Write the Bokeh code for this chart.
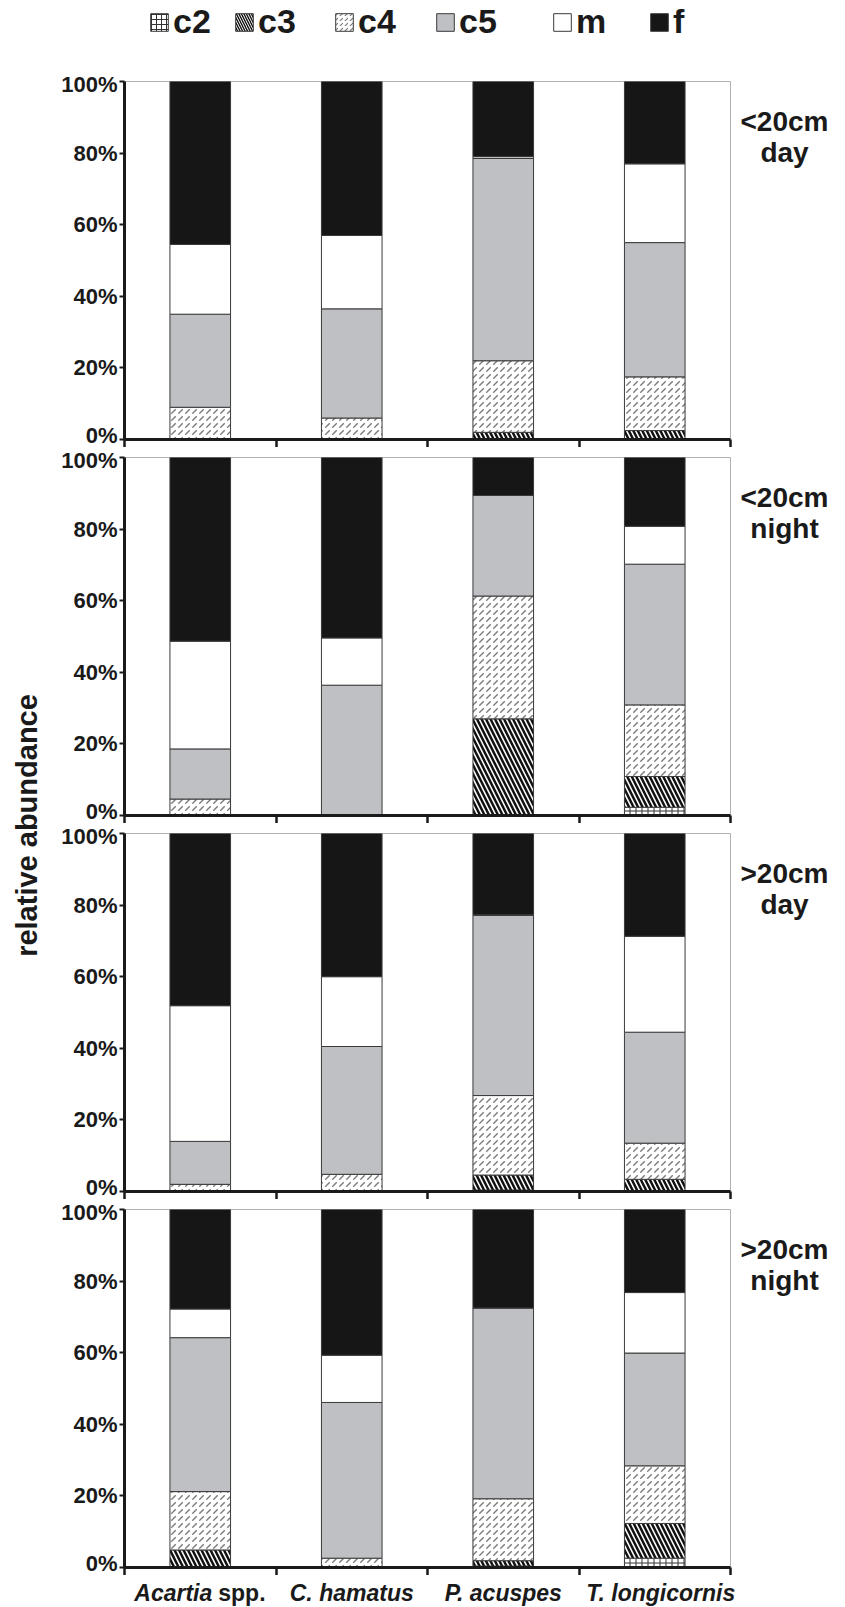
import numpy as np
from bokeh.plotting import figure
from bokeh.models import (Range1d, FixedTicker, NumeralTickFormatter, Label, Legend,
                          LegendItem, ColumnDataSource)
from bokeh.layouts import column, row
from bokeh.embed import file_html
from bokeh.resources import INLINE

# ---------------- data (percent of individuals per stage) ----------------
categories = ["Acartia spp.", "C. hamatus", "P. acuspes", "T. longicornis"]
stages = ["c2", "c3", "c4", "c5", "m", "f"]
y_ticks = [0, 0.2, 0.4, 0.6, 0.8, 1.0]
panel_depth = ["<20cm", "<20cm", ">20cm", ">20cm"]
panel_time = ["day", "night", "day", "night"]

# <20cm day
lt20_day_c2 = [0.0, 0.0, 0.0, 0.0]
lt20_day_c3 = [0.0, 0.0, 2.0, 2.5]
lt20_day_c4 = [9.0, 6.0, 20.0, 15.0]
lt20_day_c5 = [26.0, 30.5, 56.5, 37.5]
lt20_day_m = [19.5, 20.5, 0.5, 22.0]
lt20_day_f = [45.5, 43.0, 21.0, 23.0]

# <20cm night
lt20_night_c2 = [0.0, 0.0, 0.0, 2.3]
lt20_night_c3 = [0.0, 0.0, 27.0, 8.6]
lt20_night_c4 = [4.6, 0.0, 34.3, 20.0]
lt20_night_c5 = [14.0, 36.4, 28.1, 39.3]
lt20_night_m = [30.1, 13.2, 0.0, 10.6]
lt20_night_f = [51.3, 50.4, 10.6, 19.2]

# >20cm day
gt20_day_c2 = [0.0, 0.0, 0.4, 0.0]
gt20_day_c3 = [0.0, 0.0, 4.2, 3.4]
gt20_day_c4 = [2.0, 4.8, 22.2, 10.1]
gt20_day_c5 = [12.0, 35.7, 50.3, 31.0]
gt20_day_m = [37.9, 19.5, 0.2, 26.8]
gt20_day_f = [48.1, 40.0, 22.7, 28.7]

# >20cm night
gt20_night_c2 = [0.0, 0.0, 0.4, 2.6]
gt20_night_c3 = [4.9, 0.0, 1.5, 9.7]
gt20_night_c4 = [16.3, 2.6, 17.3, 16.1]
gt20_night_c5 = [43.0, 43.5, 53.3, 31.5]
gt20_night_m = [8.0, 13.2, 0.0, 16.9]
gt20_night_f = [27.8, 40.7, 27.5, 23.2]

panels = [
    [lt20_day_c2, lt20_day_c3, lt20_day_c4, lt20_day_c5, lt20_day_m, lt20_day_f],
    [lt20_night_c2, lt20_night_c3, lt20_night_c4, lt20_night_c5, lt20_night_m, lt20_night_f],
    [gt20_day_c2, gt20_day_c3, gt20_day_c4, gt20_day_c5, gt20_day_m, gt20_day_f],
    [gt20_night_c2, gt20_night_c3, gt20_night_c4, gt20_night_c5, gt20_night_m, gt20_night_f],
]

# ---------------- styles / layout constants ----------------
FONT = "Liberation Sans"
INK = "#1a1a1a"
fills = ["white", "white", "white", "#bfc0c4", "white", "#161616"]
hatches = ["cross", "left_diagonal_line", "right_diagonal_dash", None, None, None]
hatch_colors = ["#333333", "#111111", "#7a7a7a", "#000000", "#000000", "#000000"]
hatch_scales = [6.0, 9.0, 7.0, 8.0, 8.0, 8.0]
hatch_weights = [1.0, 2.5, 1.3, 1.0, 1.0, 1.0]
legend_hatch_scales = [5.0, 5.0, 5.0, 5.0, 5.0, 5.0]
legend_hatch_weights = [1.0, 1.4, 1.1, 1.0, 1.0, 1.0]

PAGE_H = 1607
YLAB_W = 50
FRAME_W = 606
FRAME_H = 358
LEFT = 74
RIGHT = 10
RSTRIP_W = 845 - YLAB_W - LEFT - FRAME_W - RIGHT
TOP_B = 10
BOT_B = 8
LEG_H = 71
PANEL_H = TOP_B + FRAME_H + BOT_B
CAT_H = PAGE_H - LEG_H - 4 * PANEL_H
COL_W = LEFT + FRAME_W + RIGHT

n = len(categories)
# category slot i occupies [i, i+1] on the x axis; bar sits at its centre
cat_x = [i + 0.5 for i in range(n)]


def strip(w, h, **kw):
    s = figure(width=w, height=h, min_border=0, x_axis_type=None, y_axis_type=None,
               title=None, output_backend="svg", toolbar_location=None, **kw)
    s.frame_align = False
    s.outline_line_color = None
    return s


def make_panel(vals):
    data = dict(x=cat_x, cat=categories)
    for s, v in zip(stages, vals):
        data[s] = [x / 100.0 for x in v]
    src = ColumnDataSource(data)
    p = figure(x_range=Range1d(0, n), y_range=Range1d(0, 1),
               frame_width=FRAME_W, frame_height=FRAME_H,
               min_border_left=LEFT, min_border_right=RIGHT,
               min_border_top=TOP_B, min_border_bottom=BOT_B,
               title=None, output_backend="svg", toolbar_location=None)
    p.xgrid.visible = False
    p.ygrid.visible = False
    p.outline_line_color = "#b0b0b0"
    p.outline_line_width = 1

    p.vbar_stack(stages, x="x", width=0.4, source=src,
                 fill_color=fills, hatch_pattern=hatches, hatch_color=hatch_colors,
                 hatch_scale=hatch_scales, hatch_weight=hatch_weights,
                 line_color="#3a3a3a", line_width=1)

    ya = p.yaxis[0]
    ya.ticker = FixedTicker(ticks=y_ticks)
    ya.formatter = NumeralTickFormatter(format="0%")
    ya.axis_line_width = 3
    ya.axis_line_color = INK
    ya.major_tick_line_width = 2
    ya.major_tick_line_color = INK
    ya.major_tick_out = 5
    ya.major_tick_in = 0
    ya.minor_tick_line_color = None
    ya.major_label_standoff = 2
    ya.major_label_text_font = FONT
    ya.major_label_text_font_style = "bold"
    ya.major_label_text_font_size = "22px"
    ya.major_label_text_color = INK

    xa = p.xaxis[0]
    edges = list(range(n + 1))
    xa.ticker = FixedTicker(ticks=edges)
    xa.major_label_overrides = {e: "" for e in edges}
    xa.axis_line_width = 3
    xa.axis_line_color = INK
    xa.major_tick_line_width = 2.5
    xa.major_tick_line_color = INK
    xa.major_tick_out = 8
    xa.major_tick_in = 0
    xa.minor_tick_line_color = None
    xa.major_label_text_font_size = "0px"
    xa.major_label_standoff = 0
    return p


figs = [make_panel(v) for v in panels]

# ---------------- legend strip ----------------
pl = strip(COL_W, LEG_H, x_range=Range1d(0, 1), y_range=Range1d(0, 1))
legend_x = [98, 183, 283, 384, 501, 598]
for i, s in enumerate(stages):
    # legend-only renderer: a single undefined (NaN) bar, nothing is drawn in the frame
    r = pl.vbar(x=[np.nan], top=[np.nan], width=0.4, fill_color=fills[i],
                hatch_pattern=hatches[i], hatch_color=hatch_colors[i],
                hatch_scale=legend_hatch_scales[i], hatch_weight=legend_hatch_weights[i],
                line_color="#3a3a3a", line_width=1)
    lg = Legend(items=[LegendItem(label=s, renderers=[r])], location=(legend_x[i], 30),
                orientation="horizontal", glyph_width=22, glyph_height=22,
                label_standoff=3, padding=0, margin=0, border_line_color=None,
                background_fill_alpha=0, label_text_font=FONT, label_text_font_style="bold",
                label_text_font_size="34px", label_text_color=INK)
    pl.add_layout(lg, "center")

# ---------------- category label strip (same data scale as the panels) ----------------
px_per_unit = FRAME_W / n
pc = strip(COL_W, CAT_H, x_range=Range1d(-LEFT / px_per_unit, n + RIGHT / px_per_unit),
           y_range=Range1d(0, 1))
lab_kw = dict(y=CAT_H - 17, y_units="screen", text_baseline="middle", text_font=FONT,
              text_font_size="23px", text_color=INK)
pc.add_layout(Label(x=cat_x[0], x_offset=12, text="Acartia", text_align="right",
                    text_font_style="bold italic", **lab_kw))
pc.add_layout(Label(x=cat_x[0], x_offset=18, text="spp.", text_align="left",
                    text_font_style="bold", **lab_kw))
for c, xc, off in zip(categories[1:], cat_x[1:], [0, 0, 6]):
    pc.add_layout(Label(x=xc, x_offset=off, text=c, text_align="center",
                        text_font_style="bold italic", **lab_kw))

# ---------------- panel titles strip (right) ----------------
pr = strip(RSTRIP_W, PAGE_H, x_range=Range1d(0, 1), y_range=Range1d(0, 1))
for k, (d, t) in enumerate(zip(panel_depth, panel_time)):
    frame_top = LEG_H + TOP_B + k * PANEL_H
    for txt, dy in ((d, 40), (t, 71)):
        pr.add_layout(Label(x=784 - (YLAB_W + COL_W), y=PAGE_H - frame_top - dy,
                            x_units="screen", y_units="screen",
                            text=txt, text_align="center", text_baseline="middle",
                            text_font=FONT, text_font_style="bold",
                            text_font_size="28px", text_color=INK))

# ---------------- y label strip ----------------
py = strip(YLAB_W, PAGE_H, x_range=Range1d(0, 1), y_range=Range1d(0, 1))
py.add_layout(Label(x=26, y=782, x_units="screen", y_units="screen", text="relative abundance",
                    angle=np.pi / 2, text_align="center", text_baseline="middle",
                    text_font=FONT, text_font_style="bold", text_font_size="29px",
                    text_color=INK))

layout = row(py, column(pl, *figs, pc), pr)
open("out.html", "w").write(file_html(layout, INLINE))
